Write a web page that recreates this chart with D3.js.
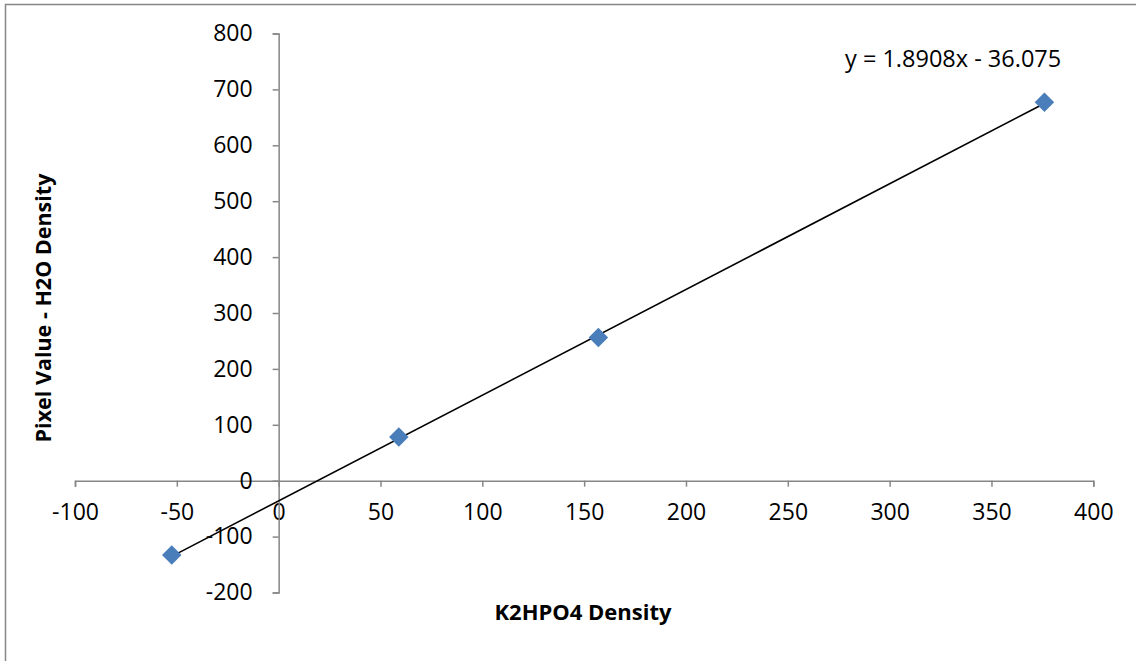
<!DOCTYPE html>
<html lang="en">
<head>
    <meta charset="UTF-8">
    <title>K2HPO4 Density</title>
    <script src="https://d3js.org/d3.v7.min.js"></script>
    <style>
        body { margin: 0; background: #fff; }
        svg text { font-family: "Open Sans", "Liberation Sans", sans-serif; fill: #000; }
    </style>
</head>
<body>
    <svg width="1136" height="661"></svg>
    <script>
        // data
        var densityK2HPO4 = [-52.5, 59, 157, 376];
        var pixelValue = [-133, 78, 256, 677];
        var trendSlope = 1.8908;
        var trendIntercept = -36.075;
        var xTicks = [-100, -50, 0, 50, 100, 150, 200, 250, 300, 350, 400];
        var yTicks = [-200, -100, 0, 100, 200, 300, 400, 500, 600, 700, 800];

        var svg = d3.select("svg");
        var axisColor = "#868686";

        // outer chart border (only top and left are in frame)
        svg.append("path")
            .attr("d", "M5.5,661V4.5H1136")
            .attr("fill", "none")
            .attr("stroke", axisColor)
            .attr("stroke-width", 1.5);

        var x = d3.scaleLinear().domain([-100, 400]).range([75, 1093.3]);
        var y = d3.scaleLinear().domain([-200, 800]).range([592.5, 33.5]);

        // plain hyphen for negatives, like the original
        var plain = function(d) { return String(d); };

        var xAxis = svg.append("g")
            .attr("transform", "translate(0," + y(0) + ")")
            .call(d3.axisBottom(x).tickValues(xTicks).tickFormat(plain)
                .tickSize(6).tickSizeOuter(6).tickPadding(17));

        var yAxis = svg.append("g")
            .attr("transform", "translate(" + x(0) + ",0)")
            .call(d3.axisLeft(y).tickValues(yTicks).tickFormat(plain)
                .tickSize(6).tickSizeOuter(6).tickPadding(20));

        [xAxis, yAxis].forEach(function(g) {
            g.selectAll("path, line").attr("stroke", axisColor).attr("stroke-width", 1.5);
            g.selectAll("text").attr("font-size", 23).attr("fill", "#000")
                .style("font-family", "'Open Sans', 'Liberation Sans', sans-serif");
        });

        // trendline over the data range
        var xExtent = d3.extent(densityK2HPO4);
        svg.append("line")
            .attr("x1", x(xExtent[0]))
            .attr("y1", y(trendSlope * xExtent[0] + trendIntercept))
            .attr("x2", x(xExtent[1]))
            .attr("y2", y(trendSlope * xExtent[1] + trendIntercept))
            .attr("stroke", "#000")
            .attr("stroke-width", 1.6);

        // diamond markers
        var points = densityK2HPO4.map(function(d, i) { return [d, pixelValue[i]]; });
        svg.selectAll(".pt")
            .data(points)
            .enter().append("path")
            .attr("class", "pt")
            .attr("d", d3.symbol().type(d3.symbolSquare).size(190))
            .attr("transform", d => "translate(" + x(d[0]) + "," + y(d[1]) + ") rotate(45)")
            .attr("fill", "#4a7ebb");

        // trendline equation
        svg.append("text")
            .attr("x", 845)
            .attr("y", 67)
            .attr("font-size", 23.5)
            .text("y = " + trendSlope + "x - " + Math.abs(trendIntercept));

        // axis titles
        svg.append("text")
            .attr("x", 583)
            .attr("y", 620)
            .attr("text-anchor", "middle")
            .attr("font-size", 22)
            .attr("font-weight", "bold")
            .text("K2HPO4 Density");

        svg.append("text")
            .attr("transform", "translate(51,308) rotate(-90)")
            .attr("text-anchor", "middle")
            .attr("font-size", 21.5)
            .attr("font-weight", "bold")
            .text("Pixel Value - H2O Density");
    </script>
</body>
</html>
